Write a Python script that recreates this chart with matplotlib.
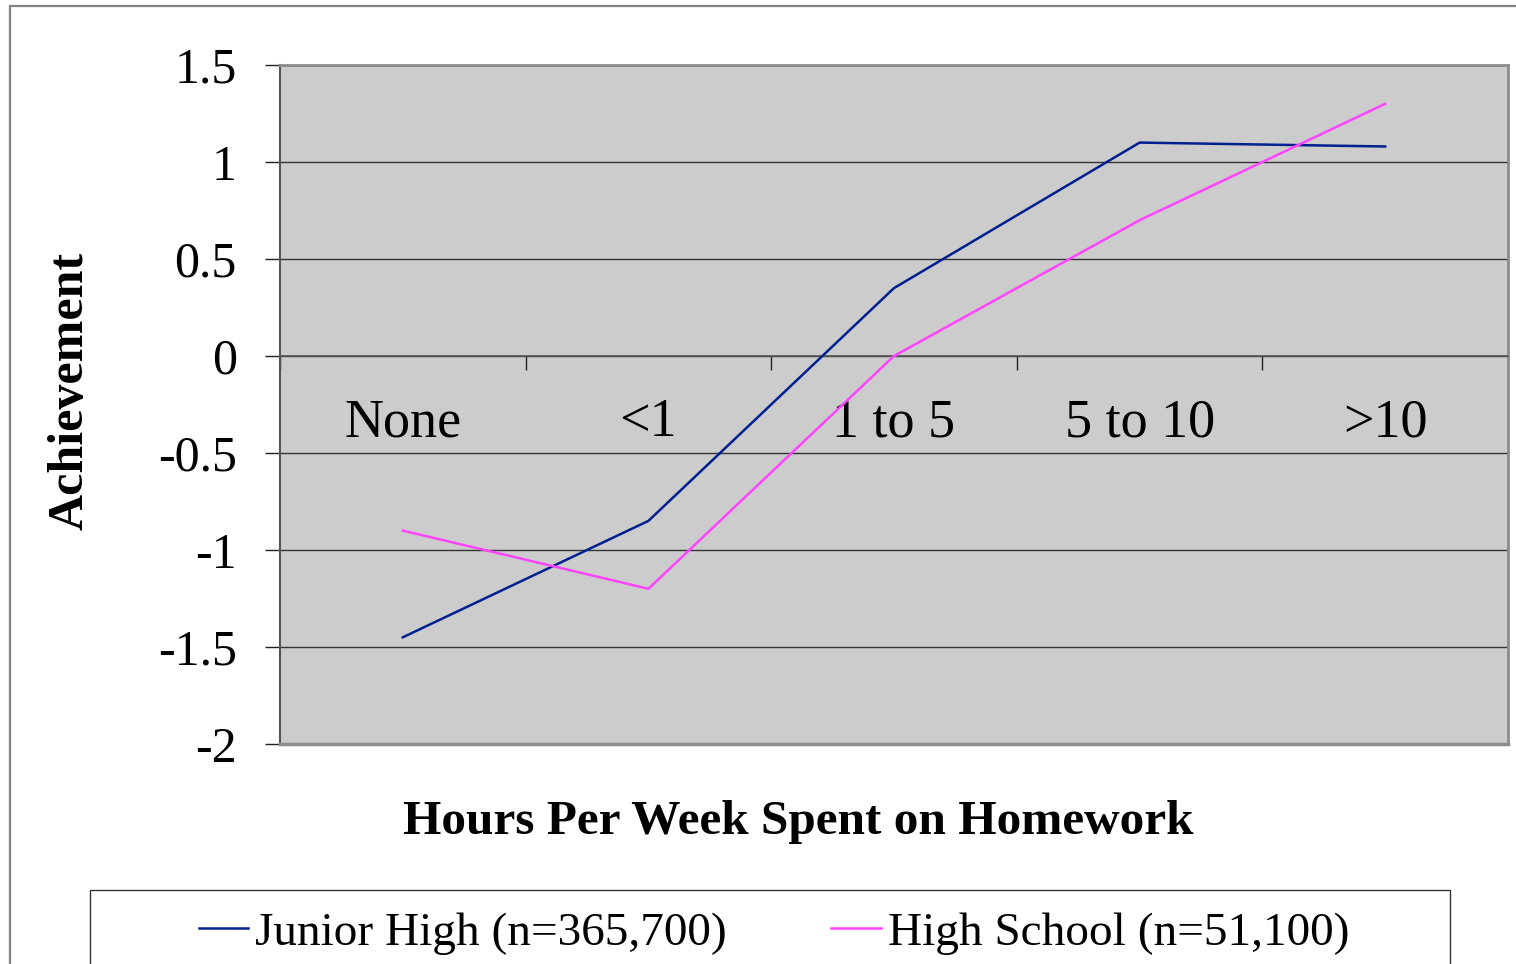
import matplotlib
matplotlib.use("Agg")
import matplotlib.pyplot as plt
from matplotlib.patches import Rectangle
from matplotlib.ticker import FixedLocator

categories = ["None", "<1", "1 to 5", "5 to 10", ">10"]
junior_high = [-1.45, -0.85, 0.35, 1.10, 1.08]
high_school = [-0.90, -1.20, 0.00, 0.70, 1.30]
series_labels = ["Junior High (n=365,700)", "High School (n=51,100)"]
y_ticks = [-2, -1.5, -1, -0.5, 0, 0.5, 1, 1.5]
y_tick_labels = ["-2", "-1.5", "-1", "-0.5", "0", "0.5", "1", "1.5"]

plt.rcParams['font.family'] = ['Liberation Serif', 'DejaVu Serif']

W, H = 1516, 964
fig = plt.figure(figsize=(W / 100, H / 100), dpi=100)
fig.patch.set_facecolor('white')

# outer chart border
fig.patches.append(Rectangle((10 / W, -0.1), 1.2, 1 - 6 / H + 0.1, transform=fig.transFigure,
                             fill=False, edgecolor='#808080', linewidth=1.6, zorder=0))

ax = fig.add_axes([280 / W, 1 - 744 / H, (1508 - 280) / W, (744 - 65) / H])
ax.set_facecolor('#CCCCCC')

x = list(range(len(categories)))
ax.plot(x, junior_high, color='#00208F', linewidth=1.8, label=series_labels[0], zorder=3)
ax.plot(x, high_school, color='#FF44FF', linewidth=1.8, label=series_labels[1], zorder=3)

ax.set_xlim(-0.5, len(categories) - 0.5)
ax.set_ylim(-2, 1.5)

# horizontal gridlines
ax.set_yticks(y_ticks)
ax.set_yticklabels(y_tick_labels, fontsize=36)
ax.yaxis.grid(True, color='#333333', linewidth=1.0)
ax.set_axisbelow(True)
ax.tick_params(axis='y', length=11, width=1.0, color='#222222', pad=20)

# x axis at zero
ax.spines['bottom'].set_position(('data', 0))
ax.spines['bottom'].set_color('#555555')
ax.spines['bottom'].set_linewidth(1.2)
ax.set_xticks(x)
ax.set_xticklabels(categories, fontsize=39)
ax.tick_params(axis='x', which='major', length=0, pad=30)
ax.xaxis.set_minor_locator(FixedLocator([i - 0.5 for i in range(len(categories) + 1)]))
ax.tick_params(axis='x', which='minor', length=10, width=1.0, direction='out', color='#222222')

ax.spines['left'].set_color('#555555')
ax.spines['left'].set_linewidth(1.5)
for s in ['top', 'right']:
    ax.spines[s].set_color('#8C8C8C')
    ax.spines[s].set_linewidth(2.0)

# bottom frame line of plot area
ax.axhline(-2, color='#8C8C8C', linewidth=2.5, zorder=4, clip_on=False)

fig.text(70 / W, 1 - 391 / H, "Achievement", rotation=90, fontsize=36, fontweight='bold',
         ha='center', va='center')
fig.text(798 / W, 1 - 822 / H, "Hours Per Week Spent on Homework", fontsize=35.5,
         fontweight='bold', ha='center', va='center')

# legend box
fig.patches.append(Rectangle((90 / W, -0.1), (1450 - 90) / W, 0.1 + (964 - 890) / H,
                             transform=fig.transFigure, fill=False, edgecolor='#333333',
                             linewidth=1.0, zorder=1))
handles, labels = ax.get_legend_handles_labels()
fig.legend(handles, labels, loc='center', bbox_to_anchor=(774 / W, 1 - 933 / H), ncol=2,
           frameon=False, fontsize=34, handlelength=1.05, handletextpad=0.15,
           columnspacing=2.2, borderpad=0)

fig.savefig("out.png", dpi=100)
